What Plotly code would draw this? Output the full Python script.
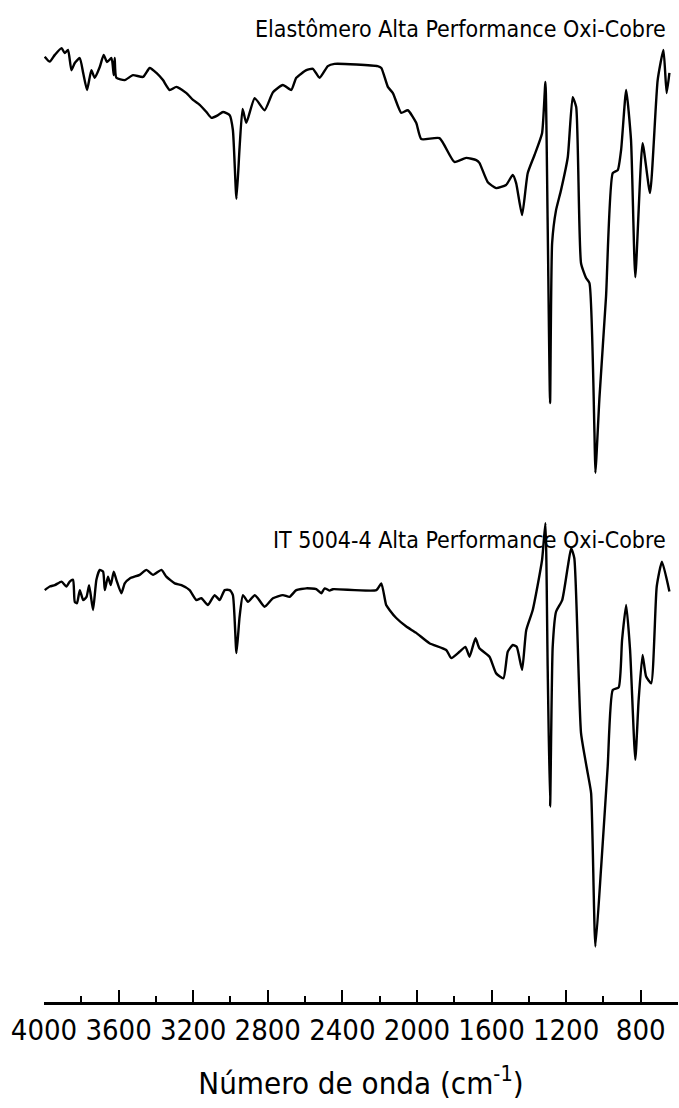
import plotly.graph_objects as go

# FTIR spectra (wavenumber in cm-1, transmittance in arbitrary %T units)
wn_elastomero = [3996, 3969, 3942, 3906, 3889, 3871, 3853, 3835, 3808, 3790, 3769, 3746, 3728, 3701,
                 3680, 3662, 3638, 3626, 3621, 3612, 3567, 3523, 3469, 3433, 3397, 3362, 3326, 3290,
                 3236, 3201, 3165, 3129, 3102, 3067, 3040, 3004, 2987, 2968, 2951, 2935, 2915, 2870,
                 2817, 2772, 2719, 2674, 2647, 2593, 2558, 2522, 2478, 2442, 2211, 2191, 2156, 2129,
                 2084, 2049, 2004, 1977, 1879, 1799, 1736, 1682, 1665, 1620, 1575, 1522, 1486, 1468,
                 1436, 1406, 1370, 1329, 1311, 1299, 1286, 1275, 1254, 1227, 1191, 1165, 1146, 1120,
                 1093, 1075, 1048, 1043, 1021, 986, 950, 923, 905, 878, 852, 829, 790, 750, 709, 678,
                 661, 646]
t_elastomero = [96.3, 95.2, 96.7, 98.2, 97.1, 97.8, 93.3, 94.9, 96.0, 92.7, 88.9, 93.3, 91.6, 94.0,
                96.7, 95.1, 96.0, 92.2, 96.0, 91.6, 91.1, 92.2, 91.8, 93.8, 92.7, 91.1, 88.9, 89.6,
                88.2, 86.7, 85.6, 84.0, 82.7, 83.3, 84.0, 83.3, 80.0, 64.7, 76.2, 84.7, 81.6, 87.1,
                84.4, 88.4, 90.0, 88.9, 91.6, 93.3, 93.6, 91.6, 94.2, 94.7, 94.2, 93.8, 89.6, 88.2,
                83.8, 84.4, 81.6, 78.0, 78.2, 72.9, 73.8, 73.3, 72.7, 68.4, 67.1, 67.8, 70.0, 68.2,
                61.1, 70.4, 74.4, 79.3, 90.7, 59.3, 19.3, 54.9, 62.2, 66.7, 74.0, 87.3, 85.1, 50.4,
                47.1, 46.0, 12.7, 3.8, 20.7, 42.9, 70.4, 71.1, 75.6, 88.9, 77.8, 47.3, 77.1, 66.0,
                91.1, 97.8, 88.2, 92.7]

wn_it5004 = [3996, 3969, 3942, 3906, 3880, 3862, 3844, 3835, 3823, 3808, 3790, 3772, 3758, 3737,
             3719, 3701, 3683, 3674, 3657, 3642, 3626, 3612, 3585, 3567, 3540, 3487, 3451, 3415,
             3370, 3344, 3299, 3263, 3219, 3183, 3156, 3121, 3085, 3058, 3031, 3004, 2987, 2968,
             2951, 2933, 2906, 2870, 2853, 2817, 2772, 2719, 2683, 2647, 2593, 2540, 2513, 2495,
             2468, 2451, 2218, 2191, 2165, 2147, 2111, 2057, 2004, 1933, 1843, 1816, 1772, 1740,
             1718, 1686, 1665, 1611, 1575, 1536, 1513, 1486, 1465, 1436, 1414, 1379, 1329, 1311,
             1299, 1286, 1272, 1254, 1221, 1191, 1173, 1156, 1120, 1084, 1066, 1043, 1012, 977,
             950, 918, 900, 878, 857, 829, 811, 790, 771, 744, 714, 686, 646]
t_it5004 = [83.3, 84.1, 84.4, 85.2, 84.1, 85.2, 85.6, 80.7, 80.4, 83.3, 81.1, 81.8, 84.4, 78.9,
            85.6, 87.8, 87.4, 83.3, 86.3, 84.4, 87.4, 85.6, 82.6, 84.8, 85.9, 86.7, 87.8, 86.7,
            87.8, 86.3, 84.8, 84.4, 83.3, 81.1, 81.5, 80.0, 82.2, 81.1, 83.3, 83.3, 82.2, 69.3,
            77.4, 82.2, 80.7, 82.2, 81.5, 79.6, 81.5, 82.2, 81.8, 83.3, 83.7, 83.5, 82.6, 83.7,
            83.2, 83.5, 83.3, 84.8, 80.0, 78.9, 77.1, 75.2, 73.8, 71.5, 70.0, 68.2, 69.6, 70.7,
            68.5, 72.6, 70.4, 68.5, 64.8, 63.7, 69.6, 71.1, 70.7, 65.6, 74.4, 78.9, 90.0, 98.2,
            66.3, 35.2, 70.7, 78.5, 81.1, 88.5, 92.6, 90.4, 51.5, 42.6, 38.2, 4.1, 21.8, 44.1,
            61.1, 61.7, 72.2, 80.0, 70.0, 45.6, 58.9, 68.9, 64.1, 62.6, 84.1, 89.6, 83.0]

x_ticks = [4000, 3600, 3200, 2800, 2400, 2000, 1600, 1200, 800]
titles = ["Elastômero Alta Performance Oxi-Cobre", "IT 5004-4 Alta Performance Oxi-Cobre"]

FONT = "DejaVu Sans Condensed, Liberation Sans Narrow, sans-serif"
LINE = dict(color="black", width=2.4, shape="spline", smoothing=0.5)

fig = go.Figure()
fig.add_trace(go.Scatter(x=wn_elastomero, y=t_elastomero, mode="lines",
                         line=LINE, xaxis="x", yaxis="y"))
fig.add_trace(go.Scatter(x=wn_it5004, y=t_it5004, mode="lines",
                         line=LINE, xaxis="x", yaxis="y2"))

for text, ypos in zip(titles, [0.971, 0.4615]):
    fig.add_annotation(text=text, xref="paper", yref="paper", x=0.984, y=ypos,
                       xanchor="right", yanchor="middle", showarrow=False,
                       font=dict(family=FONT, size=23, color="black"))

fig.update_layout(
    width=679, height=1108,
    margin=dict(l=44, r=1, t=0, b=105),
    paper_bgcolor="white", plot_bgcolor="white",
    showlegend=False,
    font=dict(family=FONT, color="black"),
    xaxis=dict(
        range=[4000, 600], anchor="free", position=0, automargin=False,
        tickvals=x_ticks, ticktext=[str(v) for v in x_ticks], tickangle=0,
        ticks="inside", ticklen=12, tickwidth=2, tickcolor="black",
        minor=dict(dtick=200, tick0=0, ticks="inside", ticklen=6, tickwidth=2, tickcolor="black"),
        showline=True, linecolor="black", linewidth=2.5,
        showgrid=False, zeroline=False,
        tickfont=dict(family=FONT, size=29, color="black"),
        title=dict(text="Número de onda (cm<sup>-1</sup>)", standoff=26,
                   font=dict(family=FONT, size=31, color="black")),
    ),
    yaxis=dict(domain=[0.5115, 1.0], range=[0, 108.9], visible=False),
    yaxis2=dict(domain=[0.0379, 0.4915], range=[0, 101.1], visible=False),
)

fig.write_html("out.html")
